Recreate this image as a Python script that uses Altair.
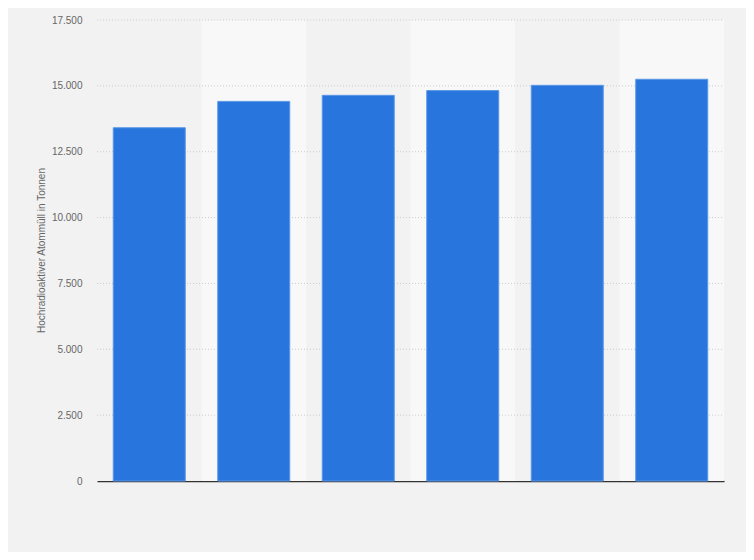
import altair as alt
import pandas as pd

categories = ["A", "B", "C", "D", "E", "F"]
values = [13410, 14410, 14640, 14820, 15020, 15250]
band_shade = ["dark", "light", "dark", "light", "dark", "light"]
grid_values = [2500, 5000, 7500, 10000, 12500, 15000, 17500]
tick_values = [0] + grid_values

df = pd.DataFrame({"cat": categories, "value": values, "shade": band_shade})
gdf = pd.DataFrame({"value": grid_values})

W, H = 627, 461
yscale = alt.Scale(domain=[0, 17500], nice=False)
yaxis = alt.Axis(values=tick_values,
                 labelExpr="replace(format(datum.value, ','), ',', '.')",
                 labelFont="Liberation Sans", labelFontSize=10, labelColor="#666666",
                 labelPadding=15, ticks=False, domain=False, grid=False,
                 title="Hochradioaktiver Atommüll in Tonnen",
                 titleFont="Liberation Sans", titleFontSize=10,
                 titleFontWeight="normal", titleColor="#666666",
                 titleAngle=-90, titleX=-56, titleY=230, titleAlign="center",
                 titleBaseline="middle")

bands = alt.Chart(df).mark_rect().encode(
    x=alt.X("cat:N", sort=categories, axis=None,
            scale=alt.Scale(paddingInner=0, paddingOuter=0)),
    y=alt.value(0),
    y2=alt.value(H),
    color=alt.Color("shade:N", legend=None,
                    scale=alt.Scale(domain=["dark", "light"], range=["#f2f2f2", "#f8f8f8"])),
)

grid = alt.Chart(gdf).mark_rule(color="#cccccc", strokeDash=[1, 2], strokeWidth=1).encode(
    y=alt.Y("value:Q", scale=yscale, axis=yaxis),
    x=alt.value(0),
    x2=alt.value(W),
)

bars = alt.Chart(df).mark_bar(color="#2876dd", stroke="#5c97e6", strokeWidth=1).encode(
    x=alt.X("cat:N", sort=categories,
            scale=alt.Scale(paddingInner=0.311, paddingOuter=0.1555),
            axis=alt.Axis(labels=False, ticks=False, title=None, domain=True,
                          domainColor="#333333", domainWidth=1.5, grid=False)),
    y=alt.Y("value:Q", scale=yscale, axis=yaxis),
)

chart = alt.layer(bands, grid, bars).resolve_scale(x="independent", color="independent").properties(
    width=W, height=H,
    background="#f2f2f2",
    padding={"left": 89, "top": 12, "right": 22, "bottom": 71},
    autosize=alt.AutoSizeParams(type="none"),
).configure_view(stroke=None)

chart.save("out.html", embed_options={"renderer": "svg", "actions": False})
